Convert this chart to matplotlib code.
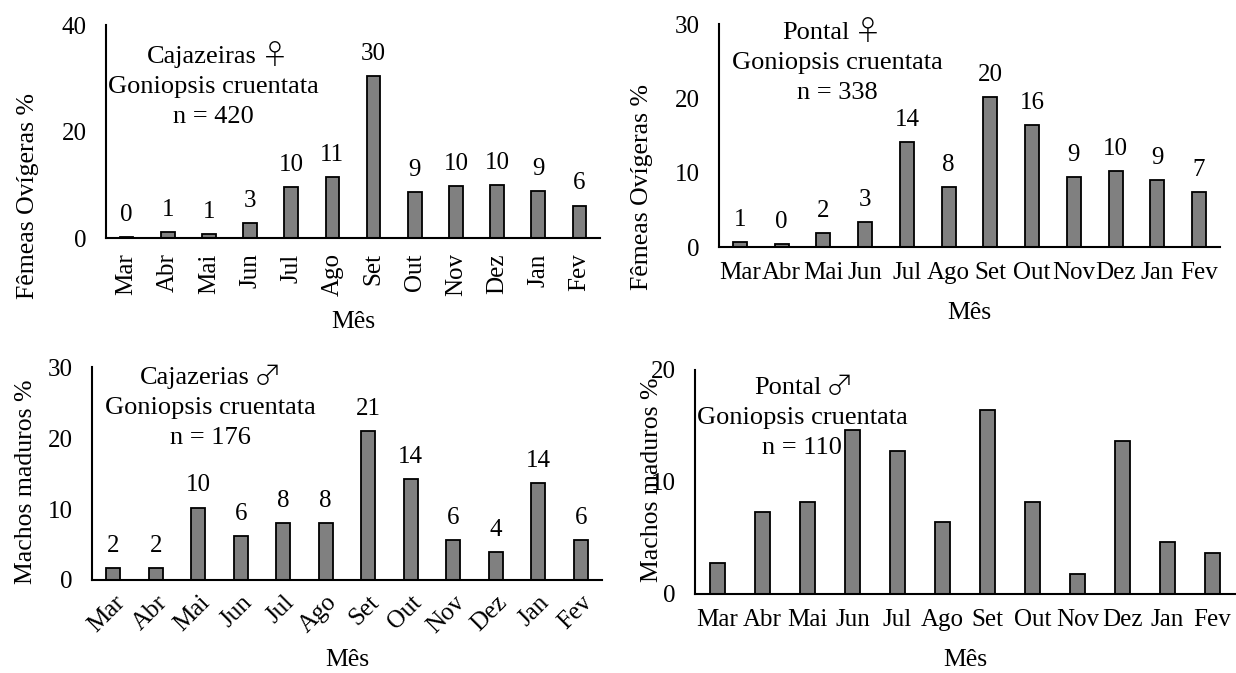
import matplotlib
matplotlib.use("Agg")
import matplotlib.pyplot as plt

plt.rcParams['font.family'] = ['Liberation Serif', 'DejaVu Sans']

meses = ['Mar', 'Abr', 'Mai', 'Jun', 'Jul', 'Ago', 'Set', 'Out', 'Nov', 'Dez', 'Jan', 'Fev']

# valores (%)
caj_femeas = [0.25, 1.1, 0.8, 2.8, 9.5, 11.4, 30.4, 8.6, 9.8, 10.0, 8.8, 6.1]
pon_femeas = [0.67, 0.4, 1.9, 3.4, 14.1, 8.1, 20.2, 16.4, 9.4, 10.2, 8.95, 7.4]
caj_machos = [1.64, 1.64, 10.2, 6.2, 8.0, 8.0, 21.0, 14.2, 5.6, 3.9, 13.6, 5.6]
pon_machos = [2.73, 7.28, 8.2, 14.6, 12.8, 6.4, 16.4, 8.2, 1.8, 13.7, 4.6, 3.65]

W, H = 1236, 673
fig = plt.figure(figsize=(W / 100, H / 100), dpi=100)


def box(x0, y0, x1, y1):
    return [x0 / W, 1 - y1 / H, (x1 - x0) / W, (y1 - y0) / H]


def fpos(x, y):
    return (x / W, 1 - y / H)


def painel(rect, valores, yticks, ylabel, local, simbolo, n, tpos, split, rot,
           ylab_pos, xlab_y, rotulos=True):
    ax = fig.add_axes(box(*rect))
    x = list(range(len(meses)))
    ax.bar(x, valores, width=0.33, color='#808080', edgecolor='black', linewidth=1.3)
    ax.set_xlim(-0.5, 11.5)
    ax.set_ylim(0, yticks[-1])
    ax.set_yticks(yticks)
    ax.set_yticklabels([str(t) for t in yticks], fontsize=18)
    ax.tick_params(axis='y', length=0, pad=14)
    ax.tick_params(axis='x', length=0, pad=11)
    ax.set_xticks(x)
    if rot == 90:
        ax.set_xticklabels(meses, fontsize=18, rotation=90, va='top')
    elif rot == 45:
        ax.set_xticklabels(meses, fontsize=18, rotation=45, ha='right', rotation_mode='anchor')
        ax.tick_params(axis='x', pad=8)
    else:
        ax.set_xticklabels(meses, fontsize=18)
    for s in ['top', 'right']:
        ax.spines[s].set_visible(False)
    for s in ['left', 'bottom']:
        ax.spines[s].set_linewidth(1.5)
    if rotulos:
        for i, v in enumerate(valores):
            ax.annotate(f"{v:.0f}", (i, v), xytext=(0, 8), textcoords='offset points',
                        ha='center', va='bottom', fontsize=18)
    fig.text(*fpos(*ylab_pos), ylabel, rotation=90, ha='center', va='center', fontsize=18.5)
    xc = (rect[0] + rect[2]) / 2
    fig.text(*fpos(xc, xlab_y), 'Mês', ha='center', va='center', fontsize=18.5)
    # titulo em tres linhas, simbolo com fonte propria
    xt, yt = tpos
    fig.text(*fpos(split, yt - 30), local, ha='right', va='center', fontsize=19)
    fig.text(*fpos(split + 4, yt - 31), simbolo, ha='left', va='center', fontsize=20,
             family=['Noto Sans CJK JP', 'DejaVu Sans'], fontweight='light')
    fig.text(*fpos(xt, yt), 'Goniopsis cruentata', ha='center', va='center', fontsize=19)
    fig.text(*fpos(xt, yt + 30), n, ha='center', va='center', fontsize=19)
    return ax


painel((106, 25, 600, 238), caj_femeas, [0, 20, 40], 'Fêmeas Ovígeras %',
       'Cajazeiras', '♀', 'n = 420', (213, 87), 257, 90, (28, 196), 322)
painel((719, 24, 1220, 247), pon_femeas, [0, 10, 20, 30], 'Fêmeas Ovígeras %',
       'Pontal', '♀', 'n = 338', (837, 63), 850, 0, (642, 187), 313)
painel((92, 367, 602, 580), caj_machos, [0, 10, 20, 30], 'Machos maduros %',
       'Cajazerias', '♂', 'n = 176', (210, 408), 250, 45, (26, 482), 660)
painel((695, 370, 1235, 594), pon_machos, [0, 10, 20], 'Machos maduros %',
       'Pontal', '♂', 'n = 110', (802, 418), 822, 0, (652, 480), 660, rotulos=False)

fig.savefig('out.png', dpi=100)
